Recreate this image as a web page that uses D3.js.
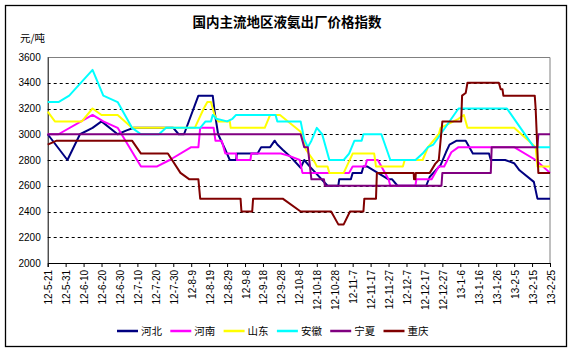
<!DOCTYPE html>
<html>
<head>
<meta charset="utf-8">
<script src="https://cdn.jsdelivr.net/npm/d3@7"></script>
<style>
  body { margin: 0; background: #fff; }
  text { font-family: "Liberation Sans", Arial, sans-serif; fill: #000; }
  .cjk { font-family: "Noto Sans CJK SC", sans-serif; }
</style>
</head>
<body>
<svg id="chart"></svg>
<script>
// x labels, one every 10 days starting 12-5-21 (day 0)
const tickLabels = ["12-5-21","12-5-31","12-6-10","12-6-20","12-6-30","12-7-10","12-7-20","12-7-30",
  "12-8-9","12-8-19","12-8-29","12-9-8","12-9-18","12-9-28","12-10-8","12-10-18","12-10-28",
  "12-11-7","12-11-17","12-11-27","12-12-7","12-12-17","12-12-27","13-1-6","13-1-16","13-1-26",
  "13-2-5","13-2-15","13-2-25"];
const yTicks = [2000, 2200, 2400, 2600, 2800, 3000, 3200, 3400, 3600];

// [day since 12-5-21, price]
const hebei = [[0,3000],[11,2800],[18,3000],[25,3050],[30,3100],[39,3000],[44,3030],[48,3050],[70,3050],
  [73,3000],[76,3000],[84,3300],[92,3300],[93,3180],[95,3000],[99,2880],[101.5,2800],[105,2800],
  [105.5,2850],[117,2850],[119,2900],[124,2900],[126.5,2950],[128,2920],[131,2880],[135,2830],[141,2740],
  [143,2800],[146,2750],[156,2600],[162,2600],
  [162.5,2650],[169,2650],[170,2700],[175,2700],[176,2750],[178,2750],[184,2700],[190,2650],[192,2650],
  [195,2600],[211,2600],[213,2670],[219,2760],[222,2860],[224,2920],[228,2950],[233,2950],[237,2850],
  [246,2850],[247,2800],[255,2800],[260,2775],[263,2720],[271,2630],[273,2500],[280,2500]];
const henan = [[0,3000],[6,3000],[25,3150],[31,3100],[39,3050],[52,2750],[61,2750],[68,2800],[80,2900],
  [84,2900],[85,3050],[92.5,3050],[93.5,2950],[97,2950],[99,2850],[105,2850],[105.5,2800],[113,2800],
  [113.5,2850],[130,2850],[135,2830],[140.5,2800],[142,2700],[168,2700],[170,2750],[177,2750],[178,2800],
  [184,2800],[190,2650],[191,2600],[205,2600],[205.5,2650],[214,2650],[218,2750],[221,2750],[225,2860],
  [229,2900],[260,2900],[272,2800],[280,2700]];
const shandong = [[0,3175],[4,3100],[19,3100],[25,3200],[30,3150],[39,3150],[47,3050],[82,3050],[87,3200],
  [89,3250],[91,3250],[93,3150],[95,3100],[101.5,3100],[102,3050],[121,3050],[124,3150],[129.5,3150],
  [141,3020],[144,2880],[149,2780],[150,2750],[156,2750],[157,2700],[165,2700],[170,2850],[182,2850],
  [183,2750],[198,2750],
  [199,2800],[209,2800],[212,2900],[218,3000],[219,3050],[229,3120],[232,3150],[234,3050],[260,3050],
  [272,2900],[273,2750],[280,2750]];
const anhui = [[0,3250],[6,3250],[12,3300],[25,3500],[31,3300],[39,3250],[47,3050],[52,3000],[62,3000],
  [66,3050],[85,3050],[88,3100],[91,3100],[92,3150],[94,3120],[100,3100],[103,3120],[105,3150],[127,3150],
  [128,3100],[141,3100],[143,2960],[145,2900],[147,2950],[150,3050],[153,3000],[157,2800],[165,2800],
  [168,2850],[171,2950],[175,2950],[176,3000],[186,3000],[191,2800],[205,2800],[209,2850],[212,2900],
  [215,2920],[219,3000],[229,3200],[256,3200],[261,3100],[271,2900],[280,2900]];
const ningxia = [[0,3000],[141,3000],[143,2900],[145,2900],[147,2650],[154,2650],[154.5,2600],[219.5,2600],
  [220,2700],[247,2700],[247.5,2900],[273,2900],[273.5,3000],[280,3000]];
const chongqing = [[0,2920],[5,2950],[47,2950],[52,2850],[67,2850],[74,2700],[79,2650],[84,2650],[85,2500],
  [107.5,2500],[108,2400],[114,2400],[114.5,2500],[131,2500],[141,2400],[158,2400],[162,2300],[165,2300],
  [168.5,2400],[176,2400],[176.5,2500],[183,2500],[183.5,2700],[204,2700],[204.2,2650],[205,2650],
  [205.2,2700],[213,2700],[216,2770],[218,2800],[219,2950],[220,3100],[230.5,3100],[231,3300],[233,3320],
  [234,3400],[251.5,3400],[252.5,3350],[253.5,3350],[254,3300],[271.5,3300],[272,3200],[273.5,2700],[280,2700]];

const seriesNames = ["河北", "河南", "山东", "安徽", "宁夏", "重庆"];
const seriesData = [hebei, henan, shandong, anhui, ningxia, chongqing];
const seriesColors = ["#000080", "#ff00ff", "#ffff00", "#00ffff", "#800080", "#800000"];

const W = 573, H = 353;
const margin = {top: 57, right: 23, bottom: 90, left: 47.7};
const width = W - margin.left - margin.right;
const height = H - margin.top - margin.bottom;

const svg = d3.select("#chart").attr("width", W).attr("height", H);

// outer frame
svg.append("rect").attr("x", 5.5).attr("y", 5.5).attr("width", 561).attr("height", 341)
  .attr("fill", "#fff").attr("stroke", "#000").attr("stroke-width", 1.3);

svg.append("text").attr("class", "cjk").attr("x", 287).attr("y", 27)
  .attr("text-anchor", "middle").attr("font-size", 13.5).attr("font-weight", "bold")
  .text("国内主流地区液氨出厂价格指数");
svg.append("text").attr("class", "cjk").attr("x", 20).attr("y", 42)
  .attr("font-size", 10.5).text("元/吨");

const chart = svg.append("g").attr("transform", `translate(${margin.left},${margin.top})`);

const x = d3.scaleLinear().domain([0, 280]).range([0, width]);
const y = d3.scaleLinear().domain([2000, 3600]).range([height, 0]);

// dashed grid
chart.selectAll(".grid").data(yTicks.filter(v => v > 2000 && v < 3600)).enter()
  .append("line")
    .attr("x1", 0).attr("x2", width)
    .attr("y1", d => Math.round(y(d)) + 0.5).attr("y2", d => Math.round(y(d)) + 0.5)
    .attr("stroke", "#000").attr("stroke-dasharray", "3,3");

// plot border top/right (gray)
chart.append("path")
  .attr("d", `M0,${Math.round(y(3600)) + 0.5}H${width}V${height}`)
  .attr("fill", "none").attr("stroke", "#808080");

// y axis
const yAxis = chart.append("g")
  .call(d3.axisLeft(y).tickValues(yTicks).tickSize(0).tickPadding(7).tickFormat(d3.format("d")));
yAxis.select(".domain").attr("stroke", "#000");
yAxis.selectAll("text").attr("font-size", 10).attr("font-family", "Liberation Sans, Arial, sans-serif");

// x axis
const xTicks = tickLabels.map((d, i) => i * 10);
const xAxis = chart.append("g").attr("transform", `translate(0,${height})`)
  .call(d3.axisBottom(x).tickValues(xTicks).tickSize(4).tickFormat((d, i) => tickLabels[i]));
xAxis.select(".domain").attr("stroke", "#000");
xAxis.selectAll(".tick line").attr("stroke", "#000");
xAxis.selectAll("text")
  .attr("font-size", 10).attr("font-family", "Liberation Sans, Arial, sans-serif")
  .attr("text-anchor", "end")
  .attr("transform", "translate(4,7) rotate(-90)")
  .attr("x", 0).attr("y", 0).attr("dy", 0);

// series lines
const line = d3.line().x(d => x(d[0])).y(d => y(d[1]));
chart.selectAll(".series").data(seriesData).enter()
  .append("path")
    .attr("d", line)
    .attr("fill", "none")
    .attr("stroke", (d, i) => seriesColors[i])
    .attr("stroke-width", 2)
    .attr("stroke-linejoin", "round");

// legend
const legend = svg.append("g").attr("transform", "translate(117,331)");
const item = legend.selectAll("g").data(seriesNames).enter()
  .append("g").attr("transform", (d, i) => `translate(${i * 53.3},0)`);
item.append("line").attr("x1", 0).attr("x2", 21).attr("y1", 0).attr("y2", 0)
  .attr("stroke", (d, i) => seriesColors[i]).attr("stroke-width", 2.5);
item.append("text").attr("class", "cjk").attr("x", 24).attr("y", 4)
  .attr("font-size", 10.5).text(d => d);
</script>
</body>
</html>
